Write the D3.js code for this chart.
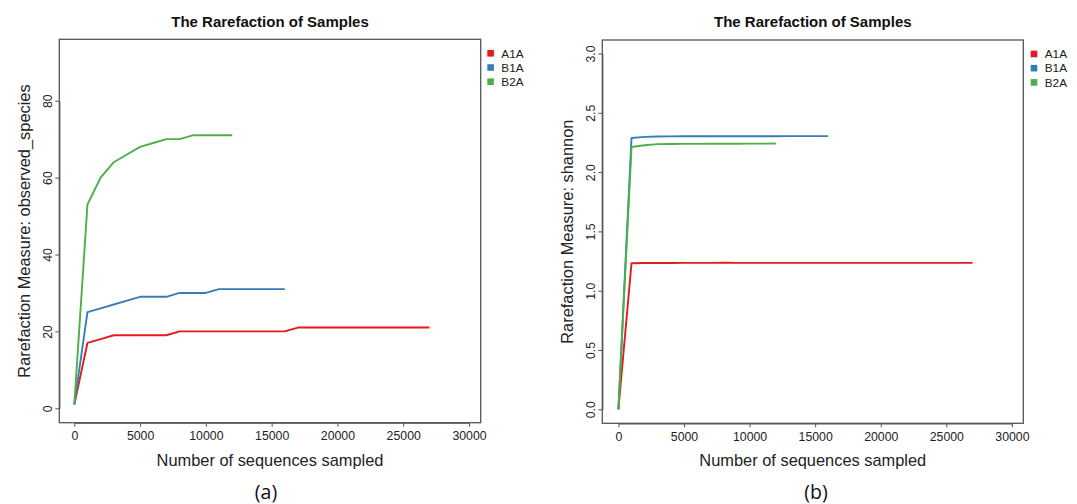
<!DOCTYPE html>
<html>
<head>
<meta charset="utf-8">
<script src="https://cdn.jsdelivr.net/npm/d3@7"></script>
<style>
  body { margin: 0; background: #fff; }
  svg { display: block; font-family: "Liberation Sans", Arial, sans-serif; }
</style>
</head>
<body>
<script>
// sample names and colours (RColorBrewer Set1)
var samples = ["A1A", "B1A", "B2A"];
var sampleColors = ["#E41A1C", "#377EB8", "#4DAF4A"];

// sequencing depths, one every 1000 reads
var depths = [0, 1000, 2000, 3000, 4000, 5000, 6000, 7000, 8000, 9000, 10000,
  11000, 12000, 13000, 14000, 15000, 16000, 17000, 18000, 19000, 20000,
  21000, 22000, 23000, 24000, 25000, 26000, 27000];

var xTicks = [0, 5000, 10000, 15000, 20000, 25000, 30000];

// panel (a) observed species
var observedA1A = [1, 17, 18, 19, 19, 19, 19, 19, 20, 20, 20, 20, 20, 20, 20,
  20, 20, 21, 21, 21, 21, 21, 21, 21, 21, 21, 21, 21];
var observedB1A = [1, 25, 26, 27, 28, 29, 29, 29, 30, 30, 30, 31, 31, 31, 31, 31, 31];
var observedB2A = [1, 53, 60, 64, 66, 68, 69, 70, 70, 71, 71, 71, 71];
var observedTicks = [0, 20, 40, 60, 80];

// panel (b) shannon
var shannonA1A = [0, 1.232, 1.233, 1.234, 1.234, 1.235, 1.235, 1.235, 1.236,
  1.235, 1.235, 1.235, 1.235, 1.235, 1.235, 1.235, 1.235, 1.235, 1.235, 1.235,
  1.235, 1.235, 1.235, 1.235, 1.235, 1.235, 1.235, 1.235];
var shannonB1A = [0, 2.288, 2.297, 2.300, 2.301, 2.302, 2.302, 2.302, 2.302,
  2.302, 2.302, 2.302, 2.302, 2.303, 2.303, 2.303, 2.303];
var shannonB2A = [0, 2.212, 2.226, 2.236, 2.237, 2.238, 2.238, 2.239, 2.239,
  2.239, 2.240, 2.240, 2.241];
var shannonTicks = [0, 0.5, 1.0, 1.5, 2.0, 2.5, 3.0];

var width = 1077, height = 504;

var svg = d3.select("body").append("svg")
    .attr("width", width)
    .attr("height", height);

svg.append("rect").attr("width", width).attr("height", height).attr("fill", "#fff");

var color = d3.scaleOrdinal().domain(samples).range(sampleColors);

// draws one rarefaction panel
function drawPanel(p) {
  var x = d3.scaleLinear().domain([0, 30000]).range([p.x0, p.x30k]);
  var y = d3.scaleLinear().domain(p.yDomain).range(p.yRange);

  var g = svg.append("g");

  // curves
  var line = d3.line()
      .x(function(d) { return x(d[0]); })
      .y(function(d) { return y(d[1]); });

  p.series.forEach(function(vals, i) {
    var pts = vals.map(function(v, j) { return [depths[j], v]; });
    g.append("path")
      .datum(pts)
      .attr("fill", "none")
      .attr("stroke", color(samples[i]))
      .attr("stroke-width", 1.9)
      .attr("stroke-linejoin", "round")
      .attr("d", line);
  });

  // box
  g.append("rect")
    .attr("x", p.box[0]).attr("y", p.box[1])
    .attr("width", p.box[2] - p.box[0]).attr("height", p.box[3] - p.box[1])
    .attr("fill", "none").attr("stroke", "#555").attr("stroke-width", 1.3);

  // x axis, R style
  var xa = g.append("g")
      .attr("transform", "translate(0," + p.box[3] + ")")
      .call(d3.axisBottom(x).tickValues(xTicks).tickSize(4).tickSizeOuter(0).tickFormat(d3.format("d")));
  xa.select(".domain").attr("stroke", "#555").attr("stroke-width", 1.2);
  xa.selectAll(".tick line").attr("stroke", "#555");
  xa.selectAll(".tick text").attr("y", 0).attr("dy", 17.3).attr("fill", "#222")
    .style("font-size", "12.3px").style("font-family", "Liberation Sans, Arial, sans-serif");

  // y axis with vertical labels
  var ya = g.append("g")
      .attr("transform", "translate(" + p.box[0] + ",0)")
      .call(d3.axisLeft(y).tickValues(p.yTicks).tickSize(4).tickSizeOuter(0).tickFormat(p.yFormat));
  ya.select(".domain").attr("stroke", "#555").attr("stroke-width", 1.2);
  ya.selectAll(".tick line").attr("stroke", "#555");
  ya.selectAll(".tick text")
    .attr("x", 0).attr("dy", null)
    .attr("transform", "translate(-7,0) rotate(-90)")
    .attr("text-anchor", "middle")
    .attr("fill", "#222")
    .style("font-size", "12.3px").style("font-family", "Liberation Sans, Arial, sans-serif");

  var cx = (p.box[0] + p.box[2]) / 2,
      cy = (p.box[1] + p.box[3]) / 2;

  // title
  g.append("text")
    .attr("x", cx).attr("y", 26.5)
    .attr("text-anchor", "middle")
    .style("font-size", "15px").style("font-weight", "bold")
    .attr("fill", "#111")
    .text("The Rarefaction of Samples");

  // axis titles
  g.append("text")
    .attr("x", cx).attr("y", 465.5)
    .attr("text-anchor", "middle")
    .style("font-size", "16.4px")
    .attr("fill", "#222")
    .text("Number of sequences sampled");

  g.append("text")
    .attr("transform", "translate(" + (p.box[0] - 29) + "," + cy + ") rotate(-90)")
    .attr("text-anchor", "middle")
    .style("font-size", "16.4px")
    .attr("fill", "#222")
    .text(p.yTitle);

  // legend
  var leg = g.selectAll(".leg").data(samples).enter().append("g")
      .attr("transform", function(d, i) { return "translate(" + p.legX + "," + (p.legY + i * 14.2) + ")"; });
  leg.append("rect").attr("x", 0).attr("y", -3.3).attr("width", 6.6).attr("height", 6.6)
    .attr("fill", function(d) { return color(d); });
  leg.append("text").attr("x", 14).attr("y", 4.2).style("font-size", "11.8px")
    .attr("fill", "#222").text(function(d) { return d; });

  // panel letter
  g.append("text")
    .attr("x", p.labelX).attr("y", 499)
    .attr("text-anchor", "middle")
    .style("font-family", "'Open Sans', 'Noto Sans', sans-serif")
    .style("font-size", "19.5px")
    .attr("fill", "#111")
    .text(p.label);
}

drawPanel({
  box: [59.3, 39.3, 480.7, 422.7],
  x0: 74.3, x30k: 469,
  yDomain: [0, 80], yRange: [408.3, 100.7],
  yTicks: observedTicks, yFormat: d3.format("d"),
  series: [observedA1A, observedB1A, observedB2A],
  yTitle: "Rarefaction Measure: observed_species",
  legX: 487.3, legY: 53.3,
  label: "(a)", labelX: 266
});

drawPanel({
  box: [602.3, 40, 1023.3, 423.3],
  x0: 618.4, x30k: 1011.9,
  yDomain: [0, 3], yRange: [409.3, 53.5],
  yTicks: shannonTicks, yFormat: d3.format(".1f"),
  series: [shannonA1A, shannonB1A, shannonB2A],
  yTitle: "Rarefaction Measure: shannon",
  legX: 1030.7, legY: 54,
  label: "(b)", labelX: 816
});
</script>
</body>
</html>
